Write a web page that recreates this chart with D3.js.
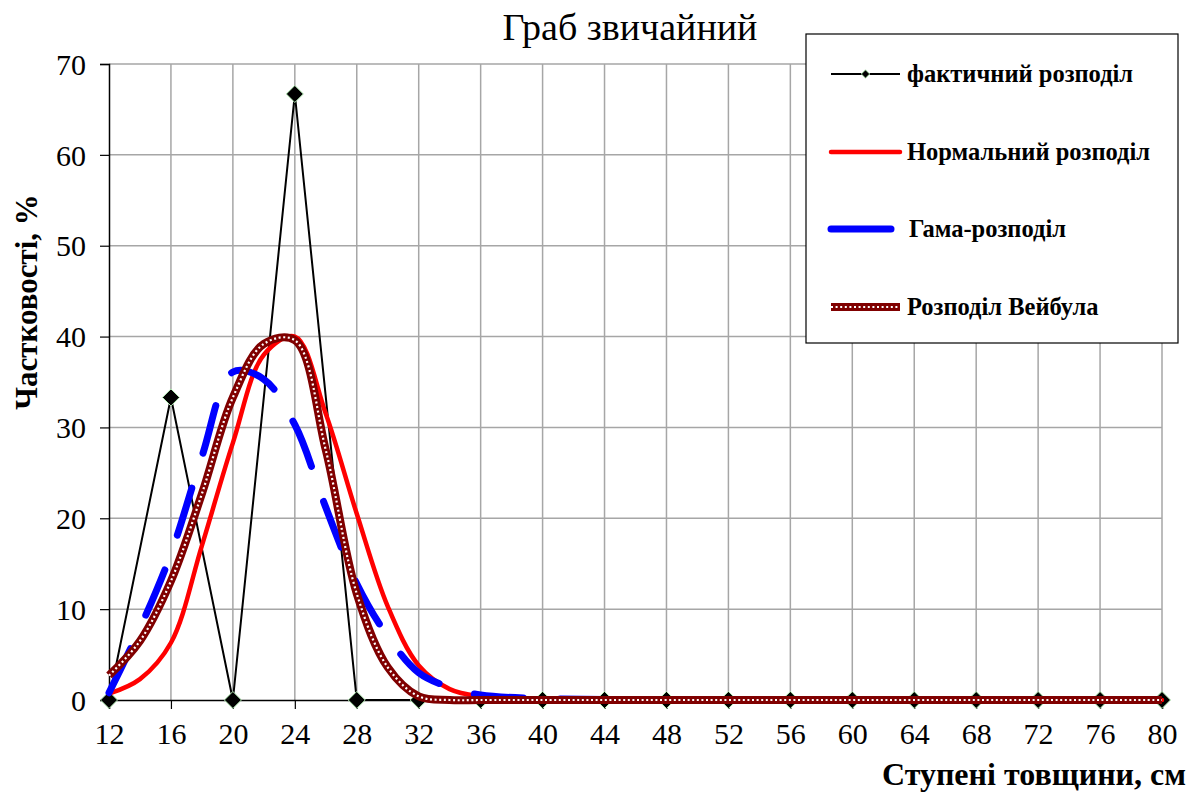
<!DOCTYPE html>
<html>
<head>
<meta charset="utf-8">
<script src="https://cdn.jsdelivr.net/npm/d3@7"></script>
<style>
  body { margin: 0; background: #fff; }
  svg { display: block; font-family: "Liberation Serif", "Times New Roman", serif; }
</style>
</head>
<body>
<div id="chart"></div>
<script>
// class midpoints, cm (also the x tick labels)
const classes = [12, 16, 20, 24, 28, 32, 36, 40, 44, 48, 52, 56, 60, 64, 68, 72, 76, 80];
// observed frequencies, %
const factual = [0, 33.3, 0, 66.7, 0, 0, 0, 0, 0, 0, 0, 0, 0, 0, 0, 0, 0, 0];

// x positions of the fitted curves
const curveX = [12, 14, 16, 18, 20, 22, 24, 26, 28, 30, 32, 34, 36, 40, 44, 48, 52, 56, 60, 64, 68, 72, 76, 80];
const normal  = [0.7, 2.3, 6.3, 17.0, 28.3, 38.0, 40.0, 31.5, 20.5, 10.3, 3.8, 1.2, 0.4, 0.05, 0, 0, 0, 0, 0, 0, 0, 0, 0, 0];
const gamma   = [0.8, 7.9, 16.1, 26.8, 36.1, 35.3, 30.3, 21.2, 12.8, 7.0, 3.0, 1.4, 0.55, 0.15, 0.05, 0, 0, 0, 0, 0, 0, 0, 0, 0];
const weibull = [2.7, 6.5, 13.1, 22.7, 33.3, 39.2, 39.6, 27.5, 11.7, 3.6, 0.4, 0, 0, 0, 0, 0, 0, 0, 0, 0, 0, 0, 0, 0];

const yTicks = [0, 10, 20, 30, 40, 50, 60, 70];
const legendNames = ["фактичний розподіл", "Нормальний розподіл", "Гама-розподіл", "Розподіл Вейбула"];

const W = 1198, H = 794;
const margin = {top: 64, right: 36, bottom: 94, left: 109};

const svg = d3.select("#chart").append("svg")
  .attr("width", W)
  .attr("height", H);

const x = d3.scaleLinear().domain([12, 80]).range([margin.left, W - margin.right]);
const y = d3.scaleLinear().domain([0, 70]).range([H - margin.bottom, margin.top]);

// grid
const grid = svg.append("g").attr("stroke", "#a6a6a6").attr("stroke-width", 1.5);
grid.selectAll(".gx").data(classes.slice(1)).enter().append("line")
  .attr("x1", d => x(d)).attr("x2", d => x(d))
  .attr("y1", y(0)).attr("y2", y(70));
grid.selectAll(".gy").data(yTicks.slice(1)).enter().append("line")
  .attr("x1", x(12)).attr("x2", x(80))
  .attr("y1", d => y(d)).attr("y2", d => y(d));

// axes
const yAxis = svg.append("g")
  .attr("transform", `translate(${x(12)},0)`)
  .call(d3.axisLeft(y).tickValues(yTicks).tickSize(9).tickPadding(14));
const xAxis = svg.append("g")
  .attr("transform", `translate(0,${y(0)})`)
  .call(d3.axisBottom(x).tickValues(classes).tickSize(9).tickPadding(13));

[xAxis, yAxis].forEach(a => {
  a.select(".domain").attr("stroke", "#000").attr("stroke-width", 1.5);
  a.selectAll(".tick line").attr("stroke", "#000").attr("stroke-width", 1.2);
  a.selectAll("text")
    .attr("font-family", "Liberation Serif")
    .attr("font-size", 30)
    .attr("fill", "#000");
});
yAxis.selectAll("text").attr("dy", "0.34em");
xAxis.selectAll("text").attr("dy", "0.72em");

// series
const plot = svg.append("g");

const straight = d3.line().x(d => x(d[0])).y(d => y(d[1]));
const smooth = d3.line().x(d => x(d[0])).y(d => y(d[1])).curve(d3.curveCatmullRom);

const factPts = classes.map((c, i) => [c, factual[i]]);
const normPts = curveX.map((c, i) => [c, normal[i]]);
const gamPts = curveX.map((c, i) => [c, gamma[i]]);
const weiPts = curveX.map((c, i) => [c, weibull[i]]);

plot.append("path")
  .attr("d", straight(factPts))
  .attr("fill", "none")
  .attr("stroke", "#000")
  .attr("stroke-width", 2);

const diamond = d3.symbol().type(d3.symbolDiamond2).size(185);
plot.selectAll(".mk").data(factPts).enter().append("path")
  .attr("d", diamond)
  .attr("transform", d => `translate(${x(d[0])},${y(d[1])})`)
  .attr("fill", "#000")
  .attr("stroke", "#b8f0b8")
  .attr("stroke-width", 1);

plot.append("path")
  .attr("d", smooth(normPts))
  .attr("fill", "none")
  .attr("stroke", "#ff0000")
  .attr("stroke-width", 4.5)
  .attr("stroke-linecap", "round");

plot.append("path")
  .attr("d", smooth(gamPts))
  .attr("fill", "none")
  .attr("stroke", "#0000ff")
  .attr("stroke-width", 7)
  .attr("stroke-linecap", "round")
  .attr("stroke-dasharray", "49,37");

plot.append("path")
  .attr("d", smooth(weiPts))
  .attr("fill", "none")
  .attr("stroke", "#800000")
  .attr("stroke-width", 8);
plot.append("path")
  .attr("d", smooth(weiPts))
  .attr("fill", "none")
  .attr("stroke", "#fff")
  .attr("stroke-width", 2.2)
  .attr("stroke-dasharray", "2,2.6");

// title and axis titles
svg.append("text")
  .attr("x", 630).attr("y", 40)
  .attr("text-anchor", "middle")
  .attr("font-size", 38)
  .text("Граб звичайний");

svg.append("text")
  .attr("transform", `translate(37,302) rotate(-90)`)
  .attr("text-anchor", "middle")
  .attr("font-size", 31)
  .attr("font-weight", "bold")
  .text("Частковості, %");

svg.append("text")
  .attr("x", 1186).attr("y", 785)
  .attr("text-anchor", "end")
  .attr("font-size", 32)
  .attr("font-weight", "bold")
  .text("Ступені товщини, см");

// legend
const lg = svg.append("g");
lg.append("rect")
  .attr("x", 806).attr("y", 34)
  .attr("width", 372).attr("height", 309)
  .attr("fill", "#fff")
  .attr("stroke", "#000")
  .attr("stroke-width", 1.2);

const rowY = [74, 152, 229, 307];
const lx1 = 831, lx2 = 900;

lg.append("line").attr("x1", lx1).attr("x2", lx2).attr("y1", rowY[0]).attr("y2", rowY[0])
  .attr("stroke", "#000").attr("stroke-width", 2);
lg.append("path")
  .attr("d", d3.symbol().type(d3.symbolDiamond2).size(45))
  .attr("transform", `translate(${(lx1 + lx2) / 2},${rowY[0]})`)
  .attr("fill", "#000").attr("stroke", "#b8f0b8").attr("stroke-width", 1);

lg.append("line").attr("x1", lx1).attr("x2", lx2).attr("y1", rowY[1]).attr("y2", rowY[1])
  .attr("stroke", "#ff0000").attr("stroke-width", 4.5).attr("stroke-linecap", "round");
lg.append("line").attr("x1", lx1).attr("x2", lx2 - 9).attr("y1", rowY[2]).attr("y2", rowY[2])
  .attr("stroke", "#0000ff").attr("stroke-width", 7).attr("stroke-linecap", "round");
lg.append("line").attr("x1", lx1).attr("x2", lx2).attr("y1", rowY[3]).attr("y2", rowY[3])
  .attr("stroke", "#800000").attr("stroke-width", 8);
lg.append("line").attr("x1", lx1).attr("x2", lx2).attr("y1", rowY[3]).attr("y2", rowY[3])
  .attr("stroke", "#fff").attr("stroke-width", 2.2).attr("stroke-dasharray", "2,2.6");

lg.selectAll(".lt").data(legendNames).enter().append("text")
  .attr("x", (d, i) => i === 2 ? 909 : 907)
  .attr("y", (d, i) => rowY[i])
  .attr("dy", "0.33em")
  .attr("font-size", 24.5)
  .attr("font-weight", "bold")
  .text(d => d);
</script>
</body>
</html>
